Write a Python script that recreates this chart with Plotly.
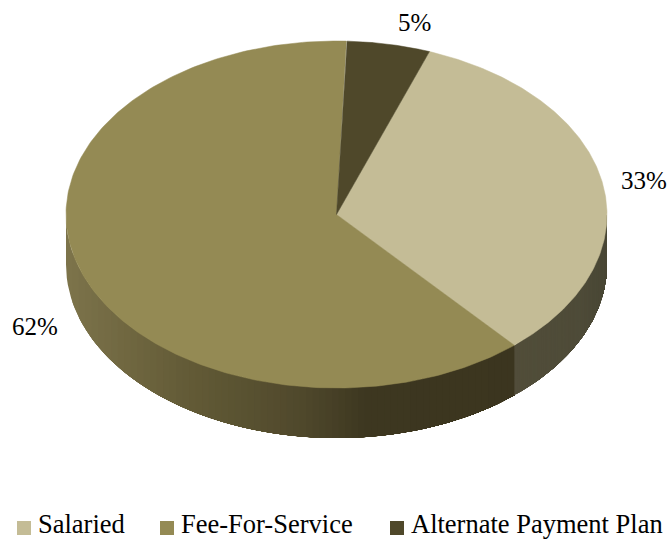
import numpy as np
import plotly.graph_objects as go

# Chart values
categories = ["Salaried", "Fee-For-Service", "Alternate Payment Plan"]
shares = [33, 62, 5]
top_colors = ["#c4bc96", "#948a54", "#4f482a"]

WIDTH, HEIGHT = 670, 539
CX, CY = 336.5, 214.5      # pie centre in page pixels
RX, RY = 270.5, 173.5      # tilted disc radii in page pixels
DEPTH = 50 / RY            # rim height in y-axis units
START_DEG = 20.1           # clockwise from 12 o'clock


def rim_point(deg):
    a = np.radians(deg)
    return np.sin(a), np.cos(a)


def lerp_color(stops, pos):
    xs = [s[0] for s in stops]
    rgb = [np.interp(pos, xs, [s[1][i] for s in stops]) for i in range(3)]
    return "rgb(%d,%d,%d)" % tuple(round(c) for c in rgb)


# Rim shading, from left to right across the disc
fee_rim = [(-1.0, (124, 115, 74)), (-0.55, (98, 90, 54)), (-0.15, (80, 73, 44)),
           (0.1, (61, 55, 32)), (1.0, (58, 52, 30))]
salaried_rim = [(0.6, (82, 78, 58)), (0.9, (78, 75, 56)), (1.0, (72, 70, 52))]

fig = go.Figure()

# Boundaries between the slices, measured in degrees around the disc
edges = START_DEG + np.cumsum([0] + [s * 3.6 for s in shares])


def add_rim(left_deg, right_deg, stops):
    # Painted left to right: each band runs to the slice's far end and the next
    # one covers it, so no seams show between neighbouring bands.
    x_steps = np.linspace(np.sin(np.radians(left_deg)), np.sin(np.radians(right_deg)), 70)
    lo, hi = min(left_deg, right_deg), max(left_deg, right_deg)
    for x0 in x_steps[:-1]:
        # Front-half angle whose rim position is x0
        start = 180 - np.degrees(np.arcsin(np.clip(x0, -1, 1)))
        start = float(np.clip(start, lo, hi))
        arc = np.linspace(start, right_deg, 60)
        xs, ys = rim_point(arc)
        fig.add_trace(go.Scatter(
            x=np.concatenate([xs, xs[::-1]]),
            y=np.concatenate([ys, ys[::-1] - DEPTH]),
            mode="lines", fill="toself", fillcolor=lerp_color(stops, x0),
            line=dict(width=0),
            hoverinfo="skip", showlegend=False))


# Only the front half of the rim can be seen
add_rim(270, edges[1], fee_rim)
add_rim(edges[1], 90, salaried_rim)

# Top face of the disc
for i, cat in enumerate(categories):
    arc = np.linspace(edges[i], edges[i + 1], 240)
    xs, ys = rim_point(arc)
    fig.add_trace(go.Scatter(
        x=np.concatenate([[0], xs, [0]]),
        y=np.concatenate([[0], ys, [0]]),
        mode="lines", fill="toself", fillcolor=top_colors[i],
        line=dict(color=top_colors[i], width=0.5),
        name=cat, hoverinfo="skip", showlegend=False))

# Value labels beside each slice
label_offsets = [(42, 2), (-47, -54), (26, 22)]   # pixels from the rim at mid-slice
for i, share in enumerate(shares):
    mx, my = rim_point((edges[i] + edges[i + 1]) / 2)
    dx, dy = label_offsets[i]
    fig.add_annotation(x=mx, y=my, text=f"{share}%", showarrow=False,
                       xshift=dx, yshift=dy, xanchor="center", yanchor="middle",
                       font=dict(family="Liberation Serif", size=25, color="#000000"))

# Key along the bottom edge
key_centre_px = [24, 167, 397]
key_row_px = 528
for cat, color, centre in zip(categories, top_colors, key_centre_px):
    kx, ky = (centre - CX) / RX, (CY - key_row_px) / RY
    fig.add_trace(go.Scatter(
        x=[kx], y=[ky], mode="markers",
        marker=dict(symbol="square", size=14, color=color),
        hoverinfo="skip", showlegend=False, cliponaxis=False))
    fig.add_annotation(x=kx, y=ky, text=cat, showarrow=False,
                       xshift=11.5, yshift=4, xanchor="left", yanchor="middle",
                       font=dict(family="Liberation Serif", size=26.5, color="#000000"))

fig.update_layout(
    width=WIDTH, height=HEIGHT,
    margin=dict(l=0, r=0, t=0, b=0),
    paper_bgcolor="#ffffff", plot_bgcolor="#ffffff",
    xaxis=dict(range=[-CX / RX, (WIDTH - CX) / RX], visible=False, fixedrange=True),
    yaxis=dict(range=[(CY - HEIGHT) / RY, CY / RY], visible=False, fixedrange=True),
    showlegend=False,
)

fig.write_html("out.html", config=dict(displayModeBar=False))
